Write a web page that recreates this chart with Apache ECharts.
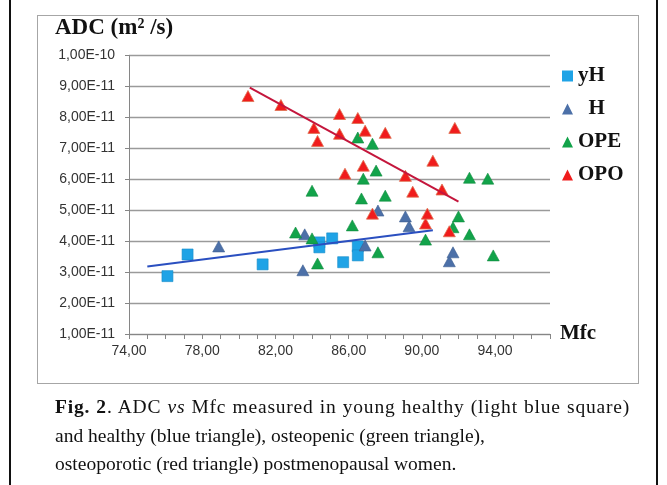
<!DOCTYPE html>
<html>
<head>
<meta charset="utf-8">
<script src="https://cdn.jsdelivr.net/npm/echarts@6/dist/echarts.min.js"></script>
<style>
body{margin:0;background:#fff;}
#wrap{position:relative;width:667px;height:485px;overflow:hidden;background:#fff;}
#frame{position:absolute;left:9px;top:-2px;width:645px;height:490px;border-left:2px solid #111;border-right:2px solid #111;}
#box{position:absolute;left:37px;top:15px;width:600px;height:367px;border:1px solid #a6a6a6;}
#main{position:absolute;left:0;top:0;width:667px;height:485px;}
#cap{position:absolute;left:55px;top:393px;font-family:"Liberation Serif",serif;font-size:19.5px;line-height:28.5px;color:#111;white-space:nowrap;}
#cap .l1{letter-spacing:0.8px;word-spacing:0.5px;}
</style>
</head>
<body>
<div id="wrap">
  <div id="frame"></div>
  <div id="box"></div>
  <div id="main"></div>
  <div id="cap"><span class="l1"><b>Fig. 2</b>. ADC <i>vs</i> Mfc measured in young healthy (light blue square)</span><br>and healthy (blue triangle), osteopenic (green triangle),<br>osteoporotic (red triangle) postmenopausal women.</div>
</div>
<script>
// ADC values are in units of 1E-11 m2/s, Mfc on x
var yhData = [[76.1,2.87],[77.2,3.57],[81.3,3.25],[84.4,3.96],[84.4,3.80],[85.1,4.09],[85.7,3.32],[86.5,3.83],[86.5,3.54]];
var hData = [[78.9,3.83],[83.5,3.06],[83.6,4.22],[86.9,3.86],[87.6,4.99],[89.1,4.80],[89.3,4.48],[91.5,3.35],[91.7,3.64]];
var opeData = [[83.1,4.28],[84.0,5.63],[84.0,4.09],[84.3,3.28],[86.2,4.51],[86.5,7.35],[86.7,5.38],[86.8,6.02],[87.3,7.15],[87.5,6.28],
    [87.6,3.64],[88.0,5.47],[90.2,4.05],[91.7,4.45],[92.0,4.80],[92.6,4.22],[92.6,6.05],[93.6,6.02],[93.9,3.54]];
var opoData = [[80.5,8.69],[82.3,8.40],[84.1,7.66],[84.3,7.24],[85.5,7.47],[85.5,8.11],[85.8,6.18],[86.5,7.98],[86.8,6.44],[86.9,7.57],
    [87.3,4.89],[88.0,7.50],[89.1,6.11],[89.5,5.60],[90.2,4.57],[90.3,4.89],[90.6,6.60],[91.1,5.67],[91.5,4.32],[91.8,7.66]];
var blueTrend = [[75.0,3.18],[90.6,4.35]];
var redTrend = [[80.6,8.96],[92.0,5.28]];
var legendNames = ['yH','H','OPE','OPO'];

function yLabel(v){
    if(v >= 10) return (v/10).toFixed(2).replace('.',',') + 'E-10';
    return v.toFixed(2).replace('.',',') + 'E-11';
}
function xLabel(v){
    if(Math.round(v - 74) % 4 !== 0) return '';
    return v.toFixed(2).replace('.',',');
}

var chart = echarts.init(document.getElementById('main'));
var option = {
    animation: false,
    title: {
        text: 'ADC (m{sup|2} /s)',
        left: 55, top: 17, padding: 0,
        textStyle: {
            fontFamily: 'Liberation Serif', fontWeight: 'bold', fontSize: 23, color: '#111',
            rich: {
                sup: {fontFamily: 'Liberation Serif', fontWeight: 'bold', fontSize: 14, color: '#111', verticalAlign: 'top', padding: [0,0,9,0]}
            }
        }
    },
    legend: {
        orient: 'vertical', left: 557, top: 60,
        itemWidth: 11, itemHeight: 11, itemGap: 11,
        data: legendNames,
        itemStyle: {borderWidth: 0},
        formatter: function(name){ return name === 'H' ? '  H' : name; },
        textStyle: {fontFamily: 'Liberation Serif', fontWeight: 'bold', fontSize: 21, color: '#111', lineHeight: 22}
    },
    grid: {left: 129, right: 117, top: 55.5, bottom: 151},
    xAxis: {
        type: 'value', min: 74, max: 97, interval: 1,
        name: 'Mfc', nameLocation: 'end', nameGap: 10,
        nameTextStyle: {fontFamily: 'Liberation Serif', fontWeight: 'bold', fontSize: 21, color: '#111', padding: [14,0,0,0]},
        axisLine: {lineStyle: {color: '#868686'}},
        axisTick: {show: true, length: 5, lineStyle: {color: '#868686'}},
        axisLabel: {formatter: xLabel, margin: 10, fontFamily: 'Liberation Sans', fontSize: 14, color: '#333'},
        splitLine: {show: false}
    },
    yAxis: {
        type: 'value', min: 1, max: 10, interval: 1,
        axisLine: {show: true, lineStyle: {color: '#868686'}},
        axisTick: {show: true, length: 4, lineStyle: {color: '#868686'}},
        axisLabel: {formatter: yLabel, margin: 14, fontFamily: 'Liberation Sans', fontSize: 14, color: '#333'},
        splitLine: {lineStyle: {color: '#9a9a9a', width: 1.3}}
    },
    series: [
        {name: 'yH', type: 'scatter', symbol: 'rect', symbolSize: 11, data: yhData,
            itemStyle: {color: '#1fa3e6', borderColor: '#168bc8', borderWidth: 0.6, opacity: 1}},
        {name: 'H', type: 'scatter', symbol: 'triangle', symbolSize: [12,11], data: hData,
            itemStyle: {color: '#4c70a8', borderColor: '#3e5f92', borderWidth: 0.6, opacity: 1}},
        {name: 'OPE', type: 'scatter', symbol: 'triangle', symbolSize: [12,11], data: opeData,
            itemStyle: {color: '#12a34a', borderColor: '#0e8c3e', borderWidth: 0.6, opacity: 1}},
        {name: 'OPO', type: 'scatter', symbol: 'triangle', symbolSize: [12,11], data: opoData,
            itemStyle: {color: '#f01c1c', borderColor: '#e07050', borderWidth: 0.8, opacity: 1}},
        {name: 'yH trend', type: 'line', data: blueTrend, showSymbol: false, silent: true,
            lineStyle: {color: '#2a4fc0', width: 2}},
        {name: 'OPO trend', type: 'line', data: redTrend, showSymbol: false, silent: true,
            lineStyle: {color: '#c4163c', width: 2}}
    ]
};
chart.setOption(option);
</script>
</body>
</html>
